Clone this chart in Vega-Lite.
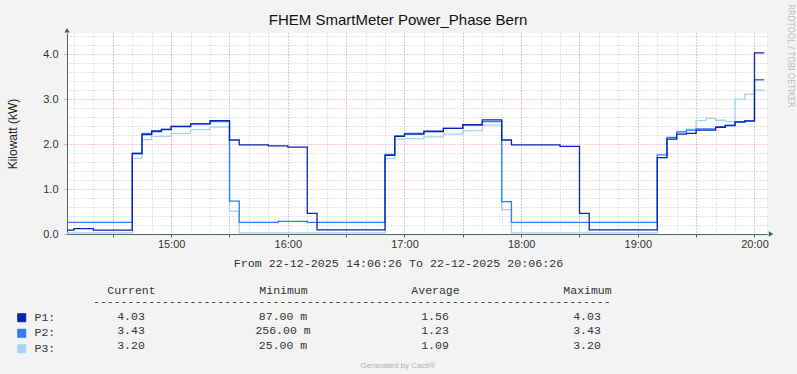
{
  "$schema": "https://vega.github.io/schema/vega-lite/v6.json",
  "background": "#F3F3F3",
  "padding": {"left": 6, "top": 3, "right": 4, "bottom": 4},
  "bounds": "flush",
  "spacing": 68,
  "config": {
    "font": "Liberation Sans",
    "view": {"stroke": null},
    "axis": {"labelFont": "Liberation Sans", "labelFontSize": 11, "labelColor": "#333333", "titleFontWeight": "normal", "titleColor": "#222222"}
  },
  "datasets": {
    "power": [
      {"t": "2025-12-22T14:06:26Z", "P1": 0.087, "P2": 0.26, "P3": 0.025},
      {"t": "2025-12-22T14:10:00Z", "P1": 0.12, "P2": 0.26, "P3": 0.025},
      {"t": "2025-12-22T14:20:00Z", "P1": 0.087, "P2": 0.26, "P3": 0.025},
      {"t": "2025-12-22T14:40:00Z", "P1": 1.79, "P2": 1.79, "P3": 1.68},
      {"t": "2025-12-22T14:45:00Z", "P1": 2.21, "P2": 2.24, "P3": 2.10},
      {"t": "2025-12-22T14:50:00Z", "P1": 2.28, "P2": 2.30, "P3": 2.17},
      {"t": "2025-12-22T14:55:00Z", "P1": 2.32, "P2": 2.33, "P3": 2.17},
      {"t": "2025-12-22T15:00:00Z", "P1": 2.39, "P2": 2.40, "P3": 2.24},
      {"t": "2025-12-22T15:10:00Z", "P1": 2.45, "P2": 2.45, "P3": 2.32},
      {"t": "2025-12-22T15:20:00Z", "P1": 2.52, "P2": 2.50, "P3": 2.38},
      {"t": "2025-12-22T15:30:00Z", "P1": 2.09, "P2": 0.73, "P3": 0.51},
      {"t": "2025-12-22T15:35:00Z", "P1": 1.98, "P2": 0.26, "P3": 0.025},
      {"t": "2025-12-22T15:50:00Z", "P1": 1.96, "P2": 0.26, "P3": 0.025},
      {"t": "2025-12-22T15:55:00Z", "P1": 1.96, "P2": 0.28, "P3": 0.025},
      {"t": "2025-12-22T16:00:00Z", "P1": 1.93, "P2": 0.28, "P3": 0.025},
      {"t": "2025-12-22T16:10:00Z", "P1": 0.46, "P2": 0.26, "P3": 0.025},
      {"t": "2025-12-22T16:15:00Z", "P1": 0.09, "P2": 0.26, "P3": 0.025},
      {"t": "2025-12-22T16:50:00Z", "P1": 1.75, "P2": 1.77, "P3": 1.68},
      {"t": "2025-12-22T16:55:00Z", "P1": 2.17, "P2": 2.18, "P3": 2.11},
      {"t": "2025-12-22T17:00:00Z", "P1": 2.22, "P2": 2.24, "P3": 2.12},
      {"t": "2025-12-22T17:10:00Z", "P1": 2.28, "P2": 2.29, "P3": 2.16},
      {"t": "2025-12-22T17:20:00Z", "P1": 2.35, "P2": 2.35, "P3": 2.22},
      {"t": "2025-12-22T17:30:00Z", "P1": 2.43, "P2": 2.43, "P3": 2.30},
      {"t": "2025-12-22T17:40:00Z", "P1": 2.54, "P2": 2.50, "P3": 2.42},
      {"t": "2025-12-22T17:50:00Z", "P1": 2.09, "P2": 0.72, "P3": 0.54},
      {"t": "2025-12-22T17:55:00Z", "P1": 1.98, "P2": 0.26, "P3": 0.025},
      {"t": "2025-12-22T18:20:00Z", "P1": 1.95, "P2": 0.26, "P3": 0.025},
      {"t": "2025-12-22T18:30:00Z", "P1": 0.46, "P2": 0.26, "P3": 0.025},
      {"t": "2025-12-22T18:35:00Z", "P1": 0.09, "P2": 0.26, "P3": 0.025},
      {"t": "2025-12-22T19:10:00Z", "P1": 1.70, "P2": 1.76, "P3": 1.70},
      {"t": "2025-12-22T19:15:00Z", "P1": 2.11, "P2": 2.15, "P3": 2.11},
      {"t": "2025-12-22T19:20:00Z", "P1": 2.22, "P2": 2.27, "P3": 2.27},
      {"t": "2025-12-22T19:25:00Z", "P1": 2.24, "P2": 2.31, "P3": 2.33},
      {"t": "2025-12-22T19:30:00Z", "P1": 2.31, "P2": 2.34, "P3": 2.52},
      {"t": "2025-12-22T19:35:00Z", "P1": 2.31, "P2": 2.34, "P3": 2.57},
      {"t": "2025-12-22T19:40:00Z", "P1": 2.37, "P2": 2.39, "P3": 2.53},
      {"t": "2025-12-22T19:45:00Z", "P1": 2.41, "P2": 2.42, "P3": 2.50},
      {"t": "2025-12-22T19:50:00Z", "P1": 2.49, "P2": 2.50, "P3": 3.00},
      {"t": "2025-12-22T19:55:00Z", "P1": 2.51, "P2": 2.52, "P3": 3.11},
      {"t": "2025-12-22T20:00:00Z", "P1": 4.03, "P2": 3.43, "P3": 3.20},
      {"t": "2025-12-22T20:05:00Z", "P1": 4.03, "P2": 3.43, "P3": 3.20}
    ],
    "legendrows": [
      {"series": "P1", "Current": "4.03", "Minimum": "87.00 m", "Average": "1.56", "Maximum": "4.03"},
      {"series": "P2", "Current": "3.43", "Minimum": "256.00 m", "Average": "1.23", "Maximum": "3.43"},
      {"series": "P3", "Current": "3.20", "Minimum": "25.00 m", "Average": "1.09", "Maximum": "3.20"}
    ],
    "dashline": [
      {"text": "---------------------------------------------------------------------------"}
    ]
  },
  "vconcat": [
    {
      "width": 700,
      "height": 201,
      "view": {"fill": "#FFFFFF", "stroke": null},
      "title": {"text": "FHEM SmartMeter Power_Phase Bern", "frame": "group", "fontSize": 15, "fontWeight": "normal", "color": "#111111", "font": "Liberation Sans", "anchor": "middle", "baseline": "bottom", "dx": -19, "offset": -39},
      "data": {"name": "power"},
      "transform": [{"fold": ["P3", "P2", "P1"], "as": ["series", "kw"]}],
      "layer": [
        {
          "mark": {"type": "line", "interpolate": "step-after", "strokeWidth": 1.3},
          "encoding": {
            "x": {"field": "t", "type": "temporal",
              "scale": {"type": "utc", "domain": [1766412386000, 1766433986000]},
              "axis": {"orient": "bottom", "grid": true, "gridColor": "#C8C8C8", "gridDash": [1, 2], "gridWidth": 1,
                "values": [1766412600000, 1766413200000, 1766413800000, 1766414400000, 1766415000000, 1766415600000, 1766416200000, 1766416800000, 1766417400000, 1766418000000, 1766418600000, 1766419200000, 1766419800000, 1766420400000, 1766421000000, 1766421600000, 1766422200000, 1766422800000, 1766423400000, 1766424000000, 1766424600000, 1766425200000, 1766425800000, 1766426400000, 1766427000000, 1766427600000, 1766428200000, 1766428800000, 1766429400000, 1766430000000, 1766430600000, 1766431200000, 1766431800000, 1766432400000, 1766433000000, 1766433600000],
                "labels": false, "ticks": false, "domain": false, "title": null}},
            "y": {"field": "kw", "type": "quantitative",
              "scale": {"domain": [0, 4.47], "nice": false, "zero": true},
              "axis": {"orient": "left", "grid": true, "gridColor": "#C8C8C8", "gridDash": [1, 2], "values": [0.2, 0.4, 0.6, 0.8, 1.2, 1.4, 1.6, 1.8, 2.2, 2.4, 2.6, 2.8, 3.2, 3.4, 3.6, 3.8, 4.2, 4.4], "labels": false, "ticks": false, "domain": false, "title": null}},
            "color": {"field": "series", "type": "nominal",
              "scale": {"domain": ["P1", "P2", "P3"], "range": ["#0A22B0", "#2E7CF6", "#A6D3EE"]},
              "legend": {"orient": "none", "legendX": -51, "legendY": 279, "title": null, "symbolType": "square", "symbolSize": 64, "symbolStrokeWidth": 1, "labelFont": "Liberation Mono", "labelFontSize": 11.5, "labelColor": "#333333", "labelOffset": 7, "rowPadding": 2.5, "labelExpr": "datum.label + ':'",
                "encode": {"symbols": {"update": {"fill": {"scale": "color", "field": "value"}, "fillOpacity": {"value": 1}, "stroke": {"value": "#2A3A36"}}}}}}
          }
        },
        {
          "mark": {"type": "line", "opacity": 0},
          "encoding": {
            "x": {"field": "t", "type": "temporal",
              "axis": {"orient": "bottom", "grid": true, "gridColor": "#E8A0A0", "gridDash": [1, 2],
                "values": [1766413800000, 1766415600000, 1766417400000, 1766419200000, 1766421000000, 1766422800000, 1766424600000, 1766426400000, 1766428200000, 1766430000000, 1766431800000, 1766433600000],
                "labelExpr": "utcminutes(datum.value) == 0 ? utcFormat(datum.value, '%H:%M') : ''", "labelPadding": 1, "ticks": true, "tickSize": 3, "tickColor": "#4A6A60", "domain": true, "domainColor": "#4A6A60", "labelFlush": false, "labelOverlap": false,
                "title": "From 22-12-2025 14:06:26 To 22-12-2025 20:06:26", "titleFont": "Liberation Mono", "titleFontSize": 11.7, "titleColor": "#333333", "titleX": 331, "titleY": 28, "titleAlign": "center", "titleBaseline": "middle"}},
            "y": {"field": "kw", "type": "quantitative",
              "axis": {"orient": "left", "grid": true, "gridColor": "#E8A0A0", "gridDash": [1, 2], "values": [0, 1, 2, 3, 4], "format": ".1f", "ticks": true, "tickSize": 3, "tickColor": "#E8A0A0", "labelPadding": 6, "domain": true, "domainColor": "#4A6A60",
                "title": "Kilowatt (kW)", "titleFontSize": 12, "titleX": -55, "titleY": 100.5, "titleAlign": "center", "titleBaseline": "middle"}}
          }
        },
        {
          "mark": {"type": "line", "opacity": 0},
          "encoding": {
            "x": {"field": "t", "type": "temporal", "axis": null},
            "y": {"field": "kw", "type": "quantitative",
              "axis": {"orient": "right", "grid": false, "labels": false, "ticks": false, "domain": false,
                "title": "RRDTOOL / TOBI OETIKER", "titleFont": "DejaVu Sans", "titleFontSize": 8, "titleColor": "#BDBDBD", "titleAngle": 90, "titleX": 22, "titleY": -29, "titleAlign": "left", "titleBaseline": "middle"}}
          }
        },
        {
          "data": {"values": [{}]},
          "mark": {"type": "point", "shape": "triangle-up", "filled": true, "size": 28, "color": "#3E5E55", "opacity": 1},
          "encoding": {
            "x": {"datum": 1766412386000, "type": "temporal", "axis": null},
            "y": {"datum": 4.53, "type": "quantitative", "axis": null}
          }
        },
        {
          "data": {"values": [{}]},
          "mark": {"type": "point", "shape": "triangle-right", "filled": true, "size": 28, "color": "#3E5E55", "opacity": 1},
          "encoding": {
            "x": {"datum": 1766434110000, "type": "temporal", "axis": null},
            "y": {"datum": 0, "type": "quantitative", "axis": null}
          }
        }
      ],
      "resolve": {"axis": {"x": "independent", "y": "independent"}}
    },
    {
      "width": 584,
      "height": 44,
      "title": {"text": "Generated by Cacti®", "orient": "bottom", "frame": "group", "fontSize": 8, "fontWeight": "normal", "color": "#B0B0B0", "anchor": "middle", "dx": 39, "offset": 10},
      "layer": [
        {
          "data": {"name": "legendrows"},
          "transform": [{"fold": ["Current", "Minimum", "Average", "Maximum"], "as": ["col", "val"]}],
          "mark": {"type": "text", "font": "Liberation Mono", "fontSize": 11.5, "color": "#333333"},
          "encoding": {
            "x": {"field": "col", "type": "nominal",
              "scale": {"type": "point", "domain": ["Current", "Minimum", "Average", "Maximum"], "padding": 0.421},
              "axis": {"orient": "top", "domain": false, "ticks": false, "grid": false, "labelAngle": 0, "labelFont": "Liberation Mono", "labelFontSize": 11.5, "labelColor": "#333333", "labelPadding": 7, "title": null}},
            "y": {"field": "series", "type": "nominal",
              "scale": {"type": "point", "domain": ["dash", "P1", "P2", "P3"], "padding": 0}, "axis": null},
            "text": {"field": "val"}
          }
        },
        {
          "data": {"name": "dashline"},
          "mark": {"type": "text", "font": "Liberation Mono", "fontSize": 11.5, "color": "#333333", "align": "left", "dx": -38},
          "encoding": {
            "x": {"datum": "Current", "type": "nominal"},
            "y": {"datum": "dash", "type": "nominal"},
            "text": {"field": "text"}
          }
        }
      ]
    }
  ]
}
